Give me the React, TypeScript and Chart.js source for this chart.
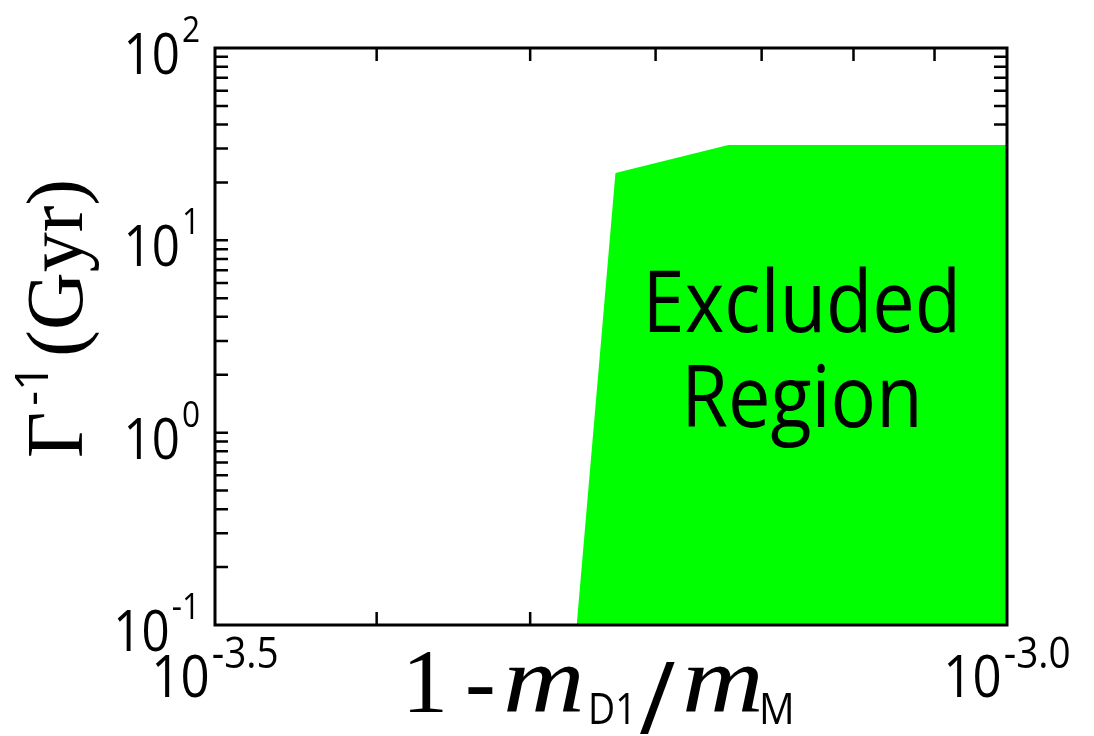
import React, { useEffect, useRef } from "react";
import { Chart, registerables } from "chart.js";

Chart.register(...registerables);

// ---- data ----
const boundaryX = [5.35e-4, 5.66e-4, 6.67e-4, 1.0e-3];
const boundaryY = [0.1, 22.4, 31.3, 31.3];

const xMin = 3.1623e-4;
const xMax = 1.0e-3;
const yMin = 0.1;
const yMax = 100;

const xMajorTicks = [3.1623e-4, 1.0e-3];
const xMajorExps = ["-3.5", "-3.0"];
const xMinorTicks = [4e-4, 5e-4, 6e-4, 7e-4, 8e-4, 9e-4];

const yMajorTicks = [0.1, 1, 10, 100];
const yMajorExps = ["-1", "0", "1", "2"];
const yMinorTicks = [
  0.2, 0.3, 0.4, 0.5, 0.6, 0.7, 0.8, 0.9,
  2, 3, 4, 5, 6, 7, 8, 9,
  20, 30, 40, 50, 60, 70, 80, 90,
];

const regionLines = ["Excluded", "Region"];

// ---- styles ----
const SANS = '"Open Sans", "Noto Sans", sans-serif';
const SERIF = '"Liberation Serif", "DejaVu Serif", serif';
const CONDENSE = 0.88;
const GREEN = "#00ff00";

function widthOf(ctx: CanvasRenderingContext2D, text: string, font: string, sx = 1) {
  ctx.save();
  ctx.font = font;
  const w = ctx.measureText(text).width * sx;
  ctx.restore();
  return w;
}

function drawAt(ctx: CanvasRenderingContext2D, text: string, x: number, y: number, font: string, sx = 1) {
  ctx.save();
  ctx.font = font;
  ctx.textAlign = "left";
  ctx.textBaseline = "alphabetic";
  ctx.fillStyle = "#000";
  ctx.translate(x, y);
  ctx.scale(sx, 1);
  ctx.fillText(text, 0, 0);
  ctx.restore();
}

function drawPower(
  ctx: CanvasRenderingContext2D,
  exp: string,
  anchorX: number,
  baseline: number,
  baseSize: number,
  supSize: number,
  rise: number,
  align: "center" | "right"
) {
  const bf = `${baseSize}px ${SANS}`;
  const sf = `${supSize}px ${SANS}`;
  const wb = widthOf(ctx, "10", bf, CONDENSE);
  const ws = widthOf(ctx, exp, sf, CONDENSE);
  const gap = 2;
  const total = wb + gap + ws;
  const left = align === "center" ? anchorX - total / 2 : anchorX - total;
  drawAt(ctx, "10", left, baseline, bf, CONDENSE);
  drawAt(ctx, exp, left + wb + gap, baseline - rise, sf, CONDENSE);
}

const framePlugin = {
  id: "frame",
  beforeDatasetsDraw(chart: any) {
    const ctx: CanvasRenderingContext2D = chart.ctx;
    const xs = chart.scales.x;
    const ys = chart.scales.y;
    const { left, right, top, bottom } = chart.chartArea;
    const L = 13;
    ctx.save();
    ctx.strokeStyle = "#000";
    ctx.lineWidth = 2.5;
    ctx.beginPath();
    for (const v of xMinorTicks) {
      const px = xs.getPixelForValue(v);
      ctx.moveTo(px, bottom);
      ctx.lineTo(px, bottom - L);
      ctx.moveTo(px, top);
      ctx.lineTo(px, top + L);
    }
    const yt = [...yMinorTicks, ...yMajorTicks.slice(1, -1)];
    for (const v of yt) {
      const py = ys.getPixelForValue(v);
      ctx.moveTo(left, py);
      ctx.lineTo(left + L, py);
      ctx.moveTo(right, py);
      ctx.lineTo(right - L, py);
    }
    ctx.stroke();
    ctx.restore();
  },
  afterDatasetsDraw(chart: any) {
    const ctx: CanvasRenderingContext2D = chart.ctx;
    const xs = chart.scales.x;
    const ys = chart.scales.y;
    const { left, right, top, bottom } = chart.chartArea;
    const w = right - left;
    const h = bottom - top;

    // frame
    ctx.save();
    ctx.strokeStyle = "#000";
    ctx.lineWidth = 3;
    ctx.strokeRect(left, top, w, h);
    ctx.restore();

    // y tick labels
    yMajorTicks.forEach((v, i) => {
      const py = ys.getPixelForValue(v);
      drawPower(ctx, yMajorExps[i], left - 15, py + 26, 56, 36, 32, "right");
    });

    // x tick labels
    xMajorTicks.forEach((v, i) => {
      const px = xs.getPixelForValue(v);
      drawPower(ctx, xMajorExps[i], px, bottom + 72, 58, 44, 29, "center");
    });

    // x title: 1-m_D1/m_M (pieces placed relative to the plot centre)
    const serif = `92px ${SERIF}`;
    const serifIt = `italic 96px ${SERIF}`;
    const sub = `44px ${SANS}`;
    const slash = `500 100px ${SANS}`;
    const mid = (left + right) / 2;
    const xb = bottom + 87;
    const pieces = [
      { t: "1", f: serif, dx: -209, dy: 0, sx: 1 },
      { t: "-", f: serif, dx: -146, dy: 0, sx: 1 },
      { t: "m", f: serifIt, dx: -108, dy: 0, sx: 1.18 },
      { t: "D1", f: sub, dx: -23, dy: 12, sx: 0.85 },
      { t: "/", f: slash, dx: 28, dy: 22, sx: 1 },
      { t: "m", f: serifIt, dx: 71, dy: 0, sx: 1.18 },
      { t: "M", f: sub, dx: 148, dy: 12, sx: 0.9 },
    ];
    pieces.forEach((p) => drawAt(ctx, p.t, mid + p.dx, xb + p.dy, p.f, p.sx));

    // y title: Γ^-1(Gyr), rotated
    const yPieces = [
      { t: "Γ", f: `80px ${SERIF}`, dy: 0, gap: 6 },
      { t: "-1", f: `46px ${SANS}`, dy: -34, gap: 8 },
      { t: "(Gyr)", f: `80px ${SERIF}`, dy: 0, gap: 0 },
    ];
    const yws = yPieces.map((p) => widthOf(ctx, p.t, p.f));
    let ytotal = 0;
    yPieces.forEach((p, i) => (ytotal += yws[i] + p.gap));
    ctx.save();
    ctx.translate(left - 133, (top + bottom) / 2 - 18);
    ctx.rotate(-Math.PI / 2);
    let rx = -ytotal / 2;
    yPieces.forEach((p, i) => {
      drawAt(ctx, p.t, rx, p.dy, p.f);
      rx += yws[i] + p.gap;
    });
    ctx.restore();

    // region label
    const rf = `86px ${SANS}`;
    const rcx = left + 0.741 * w;
    const baselines = [top + 0.492 * h, top + 0.657 * h];
    regionLines.forEach((line, i) => {
      const lw = widthOf(ctx, line, rf, CONDENSE);
      drawAt(ctx, line, rcx - lw / 2, baselines[i], rf, CONDENSE);
    });
  },
};

export default function App() {
  const ref = useRef<HTMLCanvasElement>(null);
  useEffect(() => {
    const canvas = ref.current!;
    const chart = new Chart(canvas, {
      type: "line",
      data: {
        datasets: [
          {
            data: boundaryX.map((x, i) => ({ x, y: boundaryY[i] })),
            fill: "start",
            backgroundColor: GREEN,
            borderColor: GREEN,
            borderWidth: 0,
            pointRadius: 0,
            tension: 0,
          },
        ],
      },
      options: {
        responsive: false,
        animation: false,
        events: [],
        layout: { padding: { left: 215, top: 48, right: 87, bottom: 111 } },
        plugins: { legend: { display: false }, tooltip: { enabled: false } },
        scales: {
          x: { type: "logarithmic", min: xMin, max: xMax, display: false },
          y: { type: "logarithmic", min: yMin, max: yMax, display: false },
        },
      },
      plugins: [framePlugin],
    } as any);
    return () => chart.destroy();
  }, []);
  return (
    <div style={{ position: "fixed", left: 0, top: 0, width: 1094, height: 736, background: "#fff" }}>
      <canvas ref={ref} width={1094} height={736} style={{ display: "block" }} />
    </div>
  );
}
